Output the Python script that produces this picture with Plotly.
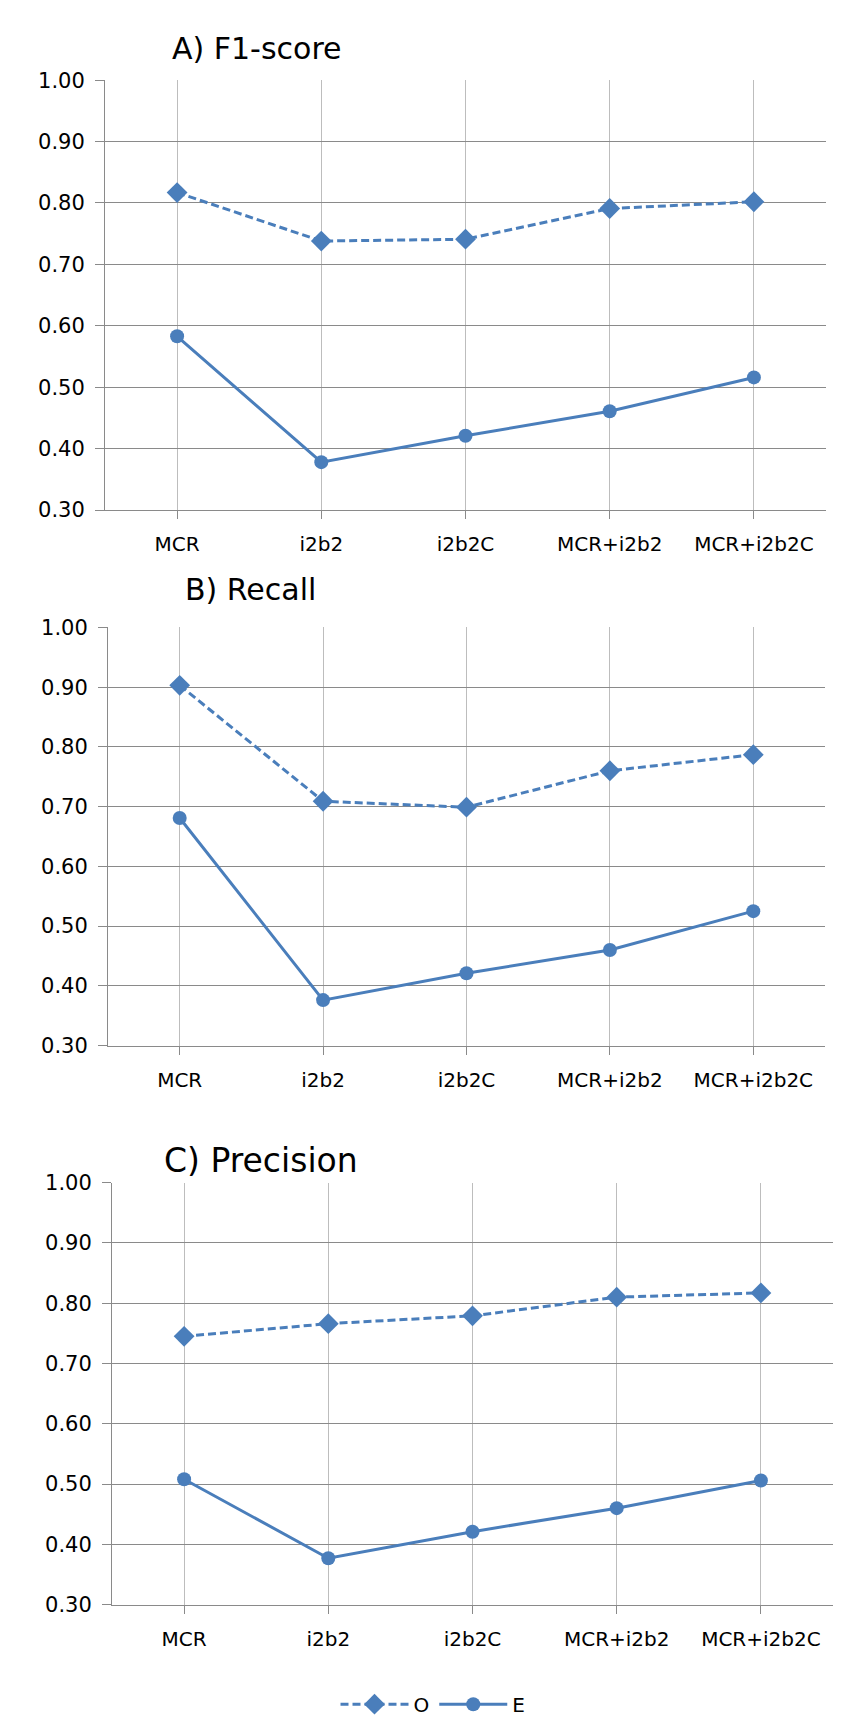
import plotly.graph_objects as go

# Datos
metodos = ["MCR", "i2b2", "i2b2C", "MCR+i2b2", "MCR+i2b2C"]

f1_o = [0.817, 0.738, 0.741, 0.791, 0.802]
f1_e = [0.583, 0.378, 0.421, 0.461, 0.516]

recall_o = [0.903, 0.709, 0.699, 0.760, 0.787]
recall_e = [0.681, 0.376, 0.421, 0.460, 0.525]

precision_o = [0.745, 0.766, 0.779, 0.810, 0.817]
precision_e = [0.508, 0.377, 0.421, 0.460, 0.506]

titulos = ["A) F1-score", "B) Recall", "C) Precision"]

AZUL = "#4A7EBB"
GRIS_H = "#8A8A8A"
GRIS_V = "#BDBDBD"
FUENTE = "DejaVu Sans, Verdana, sans-serif"
W, H = 850, 1724

# posiciones de cada panel en pixeles: (izq, der, arriba, abajo)
paneles = [(97, 818, 61, 497), (100, 817, 616, 1040), (104, 825, 1179, 1607)]
# titulos: (izq, centro vertical, tamaño)
pos_titulos = [(162, 29, 30), (175, 578, 30), (154, 1157, 33)]
series = [(f1_o, f1_e), (recall_o, recall_e), (precision_o, precision_e)]

fig = go.Figure()

for i, ((serie_o, serie_e), (x0, x1, y0, y1)) in enumerate(zip(series, paneles)):
    sufijo = "" if i == 0 else str(i + 1)
    xa, ya = "x" + sufijo, "y" + sufijo

    fig.add_trace(go.Scatter(
        x=metodos, y=serie_o, mode="lines+markers", name="O",
        xaxis=xa, yaxis=ya, showlegend=(i == 0),
        line=dict(color=AZUL, width=3, dash="8px,4px"),
        marker=dict(symbol="diamond", size=16, color=AZUL),
    ))
    fig.add_trace(go.Scatter(
        x=metodos, y=serie_e, mode="lines+markers", name="E",
        xaxis=xa, yaxis=ya, showlegend=(i == 0),
        line=dict(color=AZUL, width=3),
        marker=dict(symbol="circle", size=14, color=AZUL),
    ))

    fig.update_layout({
        "xaxis" + sufijo: dict(
            domain=[x0 / W, x1 / W], anchor=ya, type="category",
            range=[-0.5, 4.5], showgrid=True, gridcolor=GRIS_V, gridwidth=1,
            showline=True, linecolor=GRIS_H, linewidth=1,
            ticks="outside", ticklen=8, tickcolor=GRIS_H,
            ticklabelstandoff=8,
            tickfont=dict(family=FUENTE, size=20, color="black"),
            fixedrange=True,
        ),
        "yaxis" + sufijo: dict(
            domain=[1 - y1 / H, 1 - y0 / H], anchor=xa,
            range=[0.30, 1.00], dtick=0.1, tick0=0.3, tickformat=".2f",
            showgrid=True, gridcolor=GRIS_H, gridwidth=1,
            showline=True, linecolor=GRIS_H, linewidth=1,
            ticks="outside", ticklen=9, tickcolor=GRIS_H,
            ticklabelstandoff=6, zeroline=False,
            tickfont=dict(family=FUENTE, size=21, color="black"),
            fixedrange=True,
        ),
    })

for texto, (tx, ty, tam) in zip(titulos, pos_titulos):
    fig.add_annotation(
        text=texto, x=tx / W, y=1 - ty / H, xref="paper", yref="paper",
        xanchor="left", yanchor="middle", showarrow=False,
        font=dict(family=FUENTE, size=tam, color="black"),
    )

fig.update_layout(
    width=W, height=H,
    margin=dict(l=0, r=0, t=0, b=0),
    paper_bgcolor="white", plot_bgcolor="white",
    showlegend=True,
    legend=dict(
        orientation="h", x=0.5, xanchor="center", y=1 - 1708 / H, yanchor="middle",
        font=dict(family=FUENTE, size=20, color="black"),
        itemwidth=68, bgcolor="rgba(0,0,0,0)",
    ),
)

fig.write_html("out.html")
